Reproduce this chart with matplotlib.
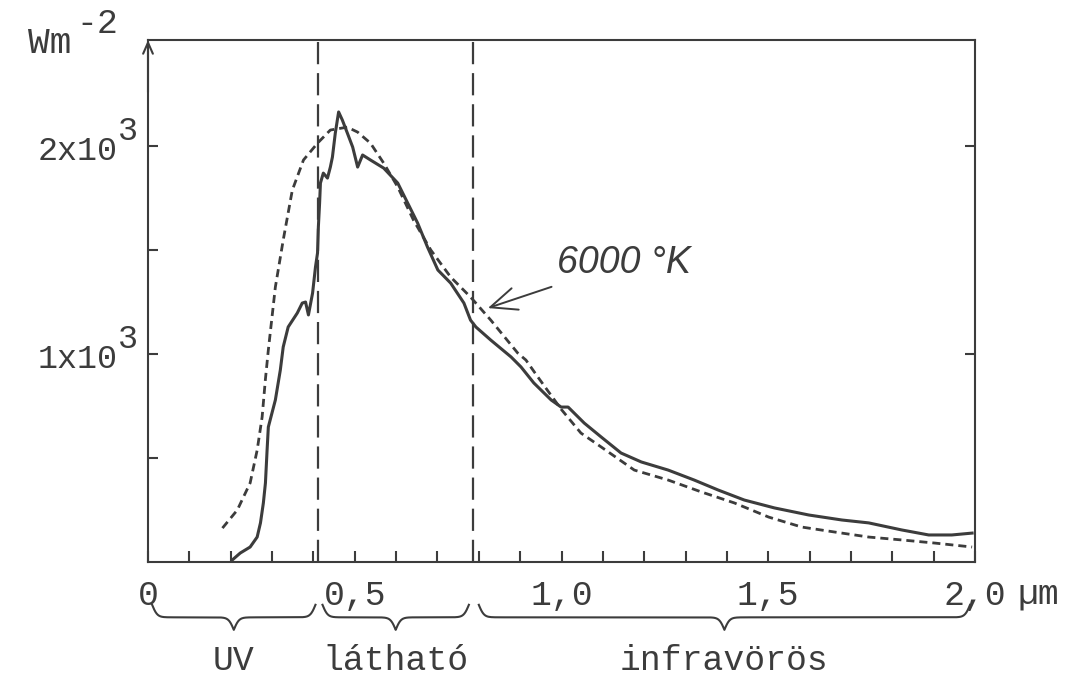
import matplotlib
matplotlib.use("Agg")
import matplotlib.pyplot as plt
import matplotlib.transforms as mtransforms
import numpy as np

# measured solar spectrum (solid), wavelength in um, W m^-2 per um
wl_sun = [0.204, 0.223, 0.247, 0.264, 0.272, 0.279, 0.284, 0.288, 0.291, 0.308,
          0.320, 0.327, 0.339, 0.361, 0.373, 0.381, 0.388, 0.398, 0.405, 0.410,
          0.412, 0.415, 0.417, 0.424, 0.434, 0.441, 0.446, 0.453, 0.461, 0.470,
          0.482, 0.495, 0.507, 0.519, 0.538, 0.570, 0.604, 0.628, 0.652, 0.676,
          0.701, 0.732, 0.764, 0.780, 0.793, 0.829, 0.878, 0.902, 0.933, 0.975,
          0.999, 1.016, 1.055, 1.096, 1.144, 1.193, 1.258, 1.321, 1.379, 1.442,
          1.515, 1.598, 1.678, 1.743, 1.823, 1.888, 1.944, 1.993]
irr_sun = [10, 43, 72, 120, 188, 284, 380, 538, 649, 779,
           923, 1034, 1130, 1197, 1245, 1250, 1188, 1293, 1418, 1486,
           1611, 1726, 1822, 1870, 1846, 1899, 1947, 2063, 2164, 2125,
           2063, 1995, 1899, 1957, 1933, 1894, 1822, 1726, 1630, 1514,
           1404, 1341, 1245, 1163, 1130, 1067, 986, 938, 861, 779,
           745, 745, 668, 601, 524, 481, 442, 394, 346, 298,
           260, 226, 202, 188, 154, 130, 130, 139]

# 6000 K black body (dashed)
wl_bb = [0.180, 0.216, 0.247, 0.264, 0.276, 0.284, 0.291, 0.308, 0.327, 0.349,
         0.376, 0.410, 0.441, 0.482, 0.507, 0.538, 0.570, 0.604, 0.642, 0.684,
         0.732, 0.780, 0.829, 0.894, 0.914, 0.943, 0.999, 1.047, 1.096, 1.176,
         1.258, 1.338, 1.418, 1.501, 1.581, 1.661, 1.743, 1.823, 1.903, 1.993]
irr_bb = [163, 250, 380, 538, 697, 880, 1019, 1322, 1548, 1788,
          1933, 2014, 2077, 2091, 2067, 2014, 1918, 1803, 1644, 1500,
          1370, 1274, 1163, 1005, 971, 889, 735, 620, 553, 442,
          394, 337, 284, 216, 168, 144, 120, 106, 91, 72]

x_ticks = [0, 0.5, 1.0, 1.5, 2.0]
x_labels = ["0", "0,5", "1,0", "1,5", "2,0"]
y_ticks = [1000, 2000]
y_labels = ["1x10", "2x10"]
boundaries = [0.41, 0.785]
bands = [("UV", 0.01, 0.405), ("látható", 0.422, 0.776), ("infravörös", 0.80, 1.988)]

MONO = "Liberation Mono"
INK = "#3c3c3c"

W, H = 1076, 679
fig = plt.figure(figsize=(W / 100, H / 100), dpi=100)
ax = fig.add_axes([148 / W, 1 - 562 / H, (975 - 148) / W, (562 - 40) / H])


def px(x, y):
    return x / W, 1 - y / H


ax.plot(wl_sun, irr_sun, color=INK, lw=2.2, solid_joinstyle="round")
ax.plot(wl_bb, irr_bb, color=INK, lw=2.0, dashes=(2.9, 1.8))
for b in boundaries:
    ax.axvline(b, color=INK, lw=1.6, dashes=(10, 4))

ax.set_xlim(0, 2.0)
ax.set_ylim(0, 2510)
for s in ax.spines.values():
    s.set_color(INK)
    s.set_linewidth(1.5)

ax.set_xticks(x_ticks)
ax.set_xticklabels(x_labels, family=MONO, fontsize=25, color=INK)
ax.set_xticks(np.arange(0.1, 2.0, 0.1), minor=True)
ax.tick_params(axis="x", which="both", direction="in", length=8, width=1.5,
               color=INK, pad=12)
ax.set_yticks(y_ticks)
ax.set_yticklabels([])
ax.set_yticks([500, 1500], minor=True)
ax.tick_params(axis="y", which="major", direction="in", length=7, width=1.5,
               color=INK, right=True)
ax.tick_params(axis="y", which="minor", direction="in", length=7, width=1.5,
               color=INK)

# y labels with typed superscript
for v, lab in zip(y_ticks, y_labels):
    yy = 562 - v * 522 / 2510
    fig.text(*px(118, yy + 5), lab, family=MONO, fontsize=24, color=INK,
             ha="right", va="center")
    fig.text(*px(118, yy - 15), "3", family=MONO, fontsize=24, color=INK,
             ha="left", va="center")

fig.text(*px(28, 53), "Wm", family=MONO, fontsize=26, color=INK, ha="left", va="baseline")
fig.text(*px(76, 33), "-2", family=MONO, fontsize=25, color=INK, ha="left", va="baseline")
fig.text(*px(1017, 594), "µm", family=MONO, fontsize=25, color=INK, ha="left", va="center")

# y axis arrow
ax.annotate("", xy=(0, 1.0), xytext=(0, 0.9), xycoords="axes fraction",
            arrowprops=dict(arrowstyle="->,head_length=0.8,head_width=0.35",
                            color=INK, lw=1.5, shrinkA=0, shrinkB=0))

# curly braces under the axis
tr = mtransforms.blended_transform_factory(ax.transData, ax.transAxes)


def sig(t, beta=160):
    return 1 / (1 + np.exp(-beta * t))


for name, x0, x1 in bands:
    xm = (x0 + x1) / 2
    t1 = np.linspace(x0, xm, 200)
    t2 = np.linspace(xm, x1, 200)
    y1 = sig(t1 - x0) + sig(t1 - xm) - 0.5
    y2 = sig(x1 - t2) + sig(xm - t2) - 0.5
    xs = np.concatenate([t1, t2])
    ys = np.concatenate([y1, y2])
    ax.plot(xs, -0.082 - ys * 0.048, color=INK, lw=1.5, transform=tr, clip_on=False)
    ax.text(xm, -0.188, name, family=MONO, fontsize=25, color=INK,
            ha="center", va="center", transform=tr)

ax.annotate("6000 °K", xy=(0.822, 1221), xytext=(0.99, 1440),
            family="Liberation Sans", style="italic", fontsize=27, color=INK,
            ha="left", va="center",
            arrowprops=dict(arrowstyle="->,head_length=0.7,head_width=0.3",
                            color=INK, lw=1.4, shrinkA=8, shrinkB=0))

fig.savefig("out.png", dpi=100)
